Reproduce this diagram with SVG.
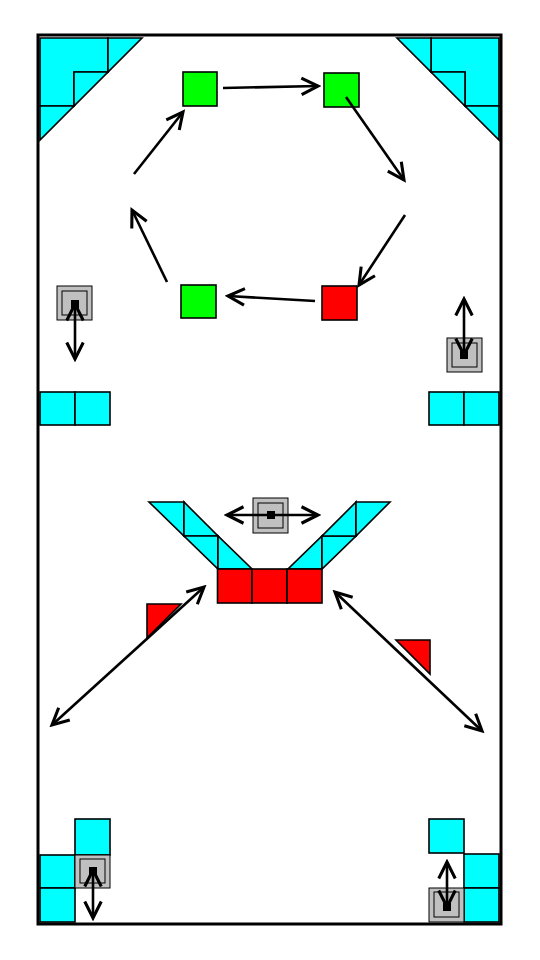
<svg xmlns="http://www.w3.org/2000/svg" width="540" height="960" viewBox="0 0 540 960">
<style>
.c{fill:#00ffff;stroke:#000;stroke-width:1.6}
.r{fill:#ff0000;stroke:#000;stroke-width:1.6}
.g{fill:#00ff00;stroke:#000;stroke-width:1.6}
.gb{fill:#c0c0c0;stroke:#000;stroke-width:1}
.gi{fill:none;stroke:#000;stroke-width:1}
.a{stroke:#000;stroke-width:2.6;fill:none}
.s{marker-end:url(#h)}
.d{marker-end:url(#h);marker-start:url(#h)}
</style>
<defs>
<marker id="h" markerUnits="userSpaceOnUse" markerWidth="22" markerHeight="22" viewBox="-17 -10 20 20" refX="0" refY="0" orient="auto-start-reverse">
<path d="M-15,-7.5 L0,0 L-15,7.5" fill="none" stroke="#000" stroke-width="2.8"/>
</marker>
</defs>
<rect x="0" y="0" width="540" height="960" fill="#fff"/>
<rect id="border" x="38" y="35" width="463" height="889" fill="none" stroke="#000" stroke-width="3"/>

<g id="corner-tl">
<polygon class="c" points="40,38 108,38 108,72 74,72 74,106 40,106"/>
<polygon class="c" points="108,38 142,38 108,72"/>
<polygon class="c" points="74,72 108,72 74,106"/>
<polygon class="c" points="40,106 74,106 40,140"/>
</g>
<g id="corner-tr">
<polygon class="c" points="431,38 499,38 499,106 465,106 465,72 431,72"/>
<polygon class="c" points="397,38 431,38 431,72"/>
<polygon class="c" points="431,72 465,72 465,106"/>
<polygon class="c" points="465,106 499,106 499,140"/>
</g>

<g id="tiles-left">
<rect class="c" x="40" y="392" width="35" height="33"/>
<rect class="c" x="75" y="392" width="35" height="33"/>
</g>
<g id="tiles-right">
<rect class="c" x="429" y="392" width="35" height="33"/>
<rect class="c" x="464" y="392" width="35" height="33"/>
</g>

<g id="green1"><rect class="g" x="183" y="72" width="34" height="34"/></g>
<g id="green2"><rect class="g" x="324" y="73" width="35" height="34"/></g>
<g id="green3"><rect class="g" x="181" y="285" width="35" height="33"/></g>
<g id="red1"><rect class="r" x="322" y="286" width="35" height="34"/></g>

<g id="gray-left">
<rect class="gb" x="57" y="286" width="35" height="34"/>
<rect class="gi" x="62" y="291" width="25" height="24"/>
<rect x="71" y="300" width="8" height="8" fill="#000"/>
</g>
<g id="gray-right">
<rect class="gb" x="447" y="338" width="35" height="34"/>
<rect class="gi" x="452" y="343" width="25" height="24"/>
<rect x="460" y="351" width="8" height="8" fill="#000"/>
</g>

<g id="v-left">
<polygon class="c" points="149,502 184,502 184,536"/>
<polygon class="c" points="184,502 184,536 218,536"/>
<polygon class="c" points="184,536 218,536 218,569"/>
<polygon class="c" points="218,536 218,569 252,569"/>
</g>
<g id="v-right">
<polygon class="c" points="322,536 322,569 288,569"/>
<polygon class="c" points="322,536 356,536 322,569"/>
<polygon class="c" points="356,502 356,536 322,536"/>
<polygon class="c" points="356,502 390,502 356,536"/>
</g>
<g id="gray-mid">
<rect class="gb" x="253" y="498" width="35" height="35"/>
<rect class="gi" x="258" y="503" width="25" height="25"/>
<rect x="267" y="511" width="8" height="8" fill="#000"/>
</g>
<g id="red-row">
<rect class="r" x="217.5" y="569" width="34.5" height="34"/>
<rect class="r" x="252" y="569" width="35" height="34"/>
<rect class="r" x="287" y="569" width="35" height="34"/>
</g>
<g id="red-tri-left"><polygon class="r" points="147,604 181,604 147,638"/></g>
<g id="red-tri-right"><polygon class="r" points="396,640 430,640 430,674"/></g>

<g id="corner-bl">
<rect class="c" x="75" y="819" width="35" height="36"/>
<rect class="c" x="40" y="855" width="35" height="33"/>
<rect class="c" x="40" y="888" width="35" height="34"/>
<rect class="gb" x="75" y="855" width="35" height="33"/>
<rect class="gi" x="80" y="859" width="25" height="24"/>
<rect x="89" y="867" width="8" height="8" fill="#000"/>
</g>
<g id="corner-br">
<rect class="c" x="429" y="819" width="35" height="34"/>
<rect class="c" x="464" y="854" width="35" height="34"/>
<rect class="c" x="464" y="888" width="35" height="34"/>
<rect class="gb" x="429" y="888" width="35" height="34"/>
<rect class="gi" x="434" y="892" width="25" height="25"/>
<rect x="443" y="903" width="8" height="8" fill="#000"/>
</g>

<g id="connectors">
<line class="a s" x1="223" y1="88" x2="318" y2="86"/>
<line class="a s" x1="346" y1="97" x2="404" y2="180"/>
<line class="a s" x1="405" y1="215" x2="359" y2="285"/>
<line class="a s" x1="315" y1="301" x2="228" y2="296"/>
<line class="a s" x1="167" y1="282" x2="132" y2="210"/>
<line class="a s" x1="134" y1="174" x2="183" y2="112"/>
<line class="a d" x1="75" y1="304" x2="75" y2="359"/>
<line class="a d" x1="464" y1="355" x2="464" y2="299"/>
<line class="a d" x1="227" y1="515" x2="318" y2="515"/>
<line class="a d" x1="52" y1="725" x2="204" y2="587"/>
<line class="a d" x1="335" y1="592" x2="482" y2="731"/>
<line class="a d" x1="93" y1="870" x2="93" y2="918"/>
<line class="a d" x1="447" y1="907" x2="447" y2="862"/>
</g>
</svg>
